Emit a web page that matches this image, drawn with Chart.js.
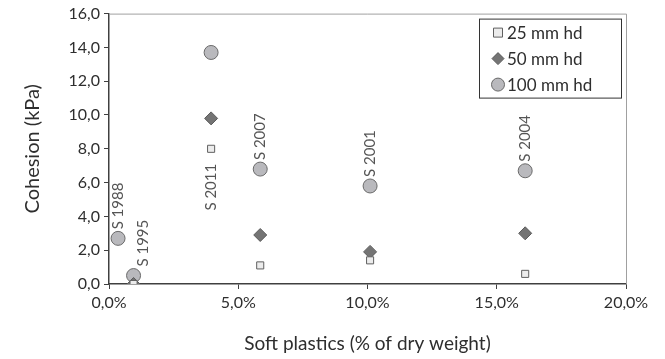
<!DOCTYPE html>
<html>
<head>
<title>Cohesion vs soft plastics</title>
<script src="https://cdn.jsdelivr.net/npm/chart.js"></script>
<style>
  body { margin: 0; background: #fff; }
  #wrap { width: 665px; height: 359px; }
</style>
</head>
<body>
<div id="wrap"><canvas id="cohesionChart"></canvas></div>
<script>
// soft plastics content (% of dry weight) per sample
var samples = ['S 1988', 'S 1995', 'S 2011', 'S 2007', 'S 2001', 'S 2004'];
var plastics = [0.35, 0.95, 3.95, 5.85, 10.1, 16.1];
var hd25 = [null, 0.0, 8.0, 1.1, 1.4, 0.6];
var hd50 = [null, 0.0, 9.8, 2.9, 1.9, 3.0];
var hd100 = [2.7, 0.5, 13.7, 6.8, 5.8, 6.7];
var seriesNames = ['25 mm hd', '50 mm hd', '100 mm hd'];

function toPoints(vals) {
    var pts = [];
    for (var i = 0; i < vals.length; i++) {
        if (vals[i] !== null) pts.push({ x: plastics[i], y: vals[i] });
    }
    return pts;
}
function comma(v, d) { return v.toFixed(d).replace('.', ','); }

var textColor = '#2e2e2e';
var font = 'Lato, "Liberation Sans", sans-serif';

// sample labels, drawn rotated above the highest point of each sample
var sampleLabels = {
    id: 'sampleLabels',
    afterDatasetsDraw: function (chart) {
        var ctx = chart.ctx, xs = chart.scales.x, ys = chart.scales.y;
        ctx.save();
        ctx.fillStyle = '#555';
        ctx.font = '15px ' + font;
        ctx.textBaseline = 'middle';
        for (var i = 0; i < samples.length; i++) {
            var px = xs.getPixelForValue(plastics[i]);
            var py, dx = 0;
            ctx.save();
            if (samples[i] === 'S 2011') {
                // this one sits below the 25 mm point
                py = ys.getPixelForValue(hd25[i]) + 15;
                ctx.translate(px, py);
                ctx.rotate(-Math.PI / 2);
                ctx.textAlign = 'right';
            } else {
                if (samples[i] === 'S 1995') dx = 10;
                py = ys.getPixelForValue(hd100[i]) - 9;
                ctx.translate(px + dx, py);
                ctx.rotate(-Math.PI / 2);
                ctx.textAlign = 'left';
            }
            ctx.fillText(samples[i], 0, 0);
            ctx.restore();
        }
        ctx.restore();
    }
};

// frame on top/right plus legend box inside the plot
var frameAndLegend = {
    id: 'frameAndLegend',
    beforeDatasetsDraw: function (chart) {
        var a = chart.chartArea, ctx = chart.ctx;
        ctx.save();
        ctx.strokeStyle = '#a0a0a0';
        ctx.lineWidth = 1;
        ctx.beginPath();
        ctx.moveTo(a.left, a.top + 0.5);
        ctx.lineTo(a.right + 0.5, a.top + 0.5);
        ctx.lineTo(a.right + 0.5, a.bottom);
        ctx.stroke();
        ctx.restore();
    },
    afterDraw: function (chart) {
        var ctx = chart.ctx, a = chart.chartArea;
        var bx = a.right - 147, by = a.top + 5, bw = 142, bh = 79;
        ctx.save();
        ctx.fillStyle = '#fff';
        ctx.fillRect(bx, by, bw, bh);
        ctx.strokeStyle = '#333';
        ctx.lineWidth = 1;
        ctx.strokeRect(bx + 0.5, by + 0.5, bw, bh);
        ctx.font = '17px ' + font;
        ctx.textBaseline = 'middle';
        ctx.textAlign = 'left';
        chart.data.datasets.forEach(function (ds, i) {
            var cy = by + 14 + i * 26, cx = bx + 19;
            ctx.fillStyle = ds.backgroundColor;
            ctx.strokeStyle = ds.borderColor;
            ctx.lineWidth = 1;
            ctx.beginPath();
            if (ds.pointStyle === 'rect') {
                ctx.rect(cx - 4.5, cy - 4.5, 9, 9);
            } else if (ds.pointStyle === 'rectRot') {
                ctx.moveTo(cx, cy - 6); ctx.lineTo(cx + 6, cy);
                ctx.lineTo(cx, cy + 6); ctx.lineTo(cx - 6, cy);
                ctx.closePath();
            } else {
                ctx.arc(cx, cy, 6.5, 0, Math.PI * 2);
            }
            ctx.fill();
            ctx.stroke();
            ctx.fillStyle = textColor;
            ctx.fillText(ds.label, cx + 9, cy + 1);
        });
        ctx.restore();
    }
};

new Chart(document.getElementById('cohesionChart').getContext('2d'), {
    type: 'scatter',
    data: {
        datasets: [
            {
                label: seriesNames[0],
                data: toPoints(hd25),
                pointStyle: 'rect',
                pointRadius: 5,
                backgroundColor: '#ececec',
                borderColor: '#606060',
                borderWidth: 1
            },
            {
                label: seriesNames[1],
                data: toPoints(hd50),
                pointStyle: 'rectRot',
                pointRadius: 6.5,
                backgroundColor: '#747474',
                borderColor: '#5a5a5a',
                borderWidth: 1
            },
            {
                label: seriesNames[2],
                data: toPoints(hd100),
                pointStyle: 'circle',
                pointRadius: 7,
                backgroundColor: '#b9b9bd',
                borderColor: '#6a6a6a',
                borderWidth: 1
            }
        ]
    },
    options: {
        responsive: true,
        maintainAspectRatio: false,
        animation: false,
        layout: { padding: { top: 13, right: 39, left: 17, bottom: 0 } },
        plugins: {
            legend: { display: false },
            tooltip: { enabled: false }
        },
        scales: {
            x: {
                type: 'linear',
                min: 0,
                max: 20,
                afterFit: function (s) { s.height = 75; },
                ticks: {
                    stepSize: 5,
                    color: textColor,
                    font: { family: font, size: 16 },
                    padding: 4,
                    callback: function (v) { return comma(v, 1) + '%'; }
                },
                grid: { drawOnChartArea: false, drawTicks: true, tickLength: 5, color: '#404040' },
                border: { color: '#404040', width: 1.5 },
                title: {
                    display: true,
                    text: 'Soft plastics (% of dry weight)',
                    color: textColor,
                    font: { family: font, size: 19 },
                    padding: { top: 8 }
                }
            },
            y: {
                min: 0,
                max: 16,
                afterFit: function (s) { s.width = 92; },
                ticks: {
                    stepSize: 2,
                    color: textColor,
                    font: { family: font, size: 16 },
                    padding: 4,
                    callback: function (v) { return comma(v, 1); }
                },
                grid: { drawOnChartArea: false, drawTicks: true, tickLength: 5, color: '#404040' },
                border: { color: '#404040', width: 1.5 },
                title: {
                    display: true,
                    text: 'Cohesion (kPa)',
                    color: textColor,
                    font: { family: font, size: 20 },
                    padding: { bottom: 2 }
                }
            }
        }
    },
    plugins: [frameAndLegend, sampleLabels]
});
</script>
</body>
</html>
